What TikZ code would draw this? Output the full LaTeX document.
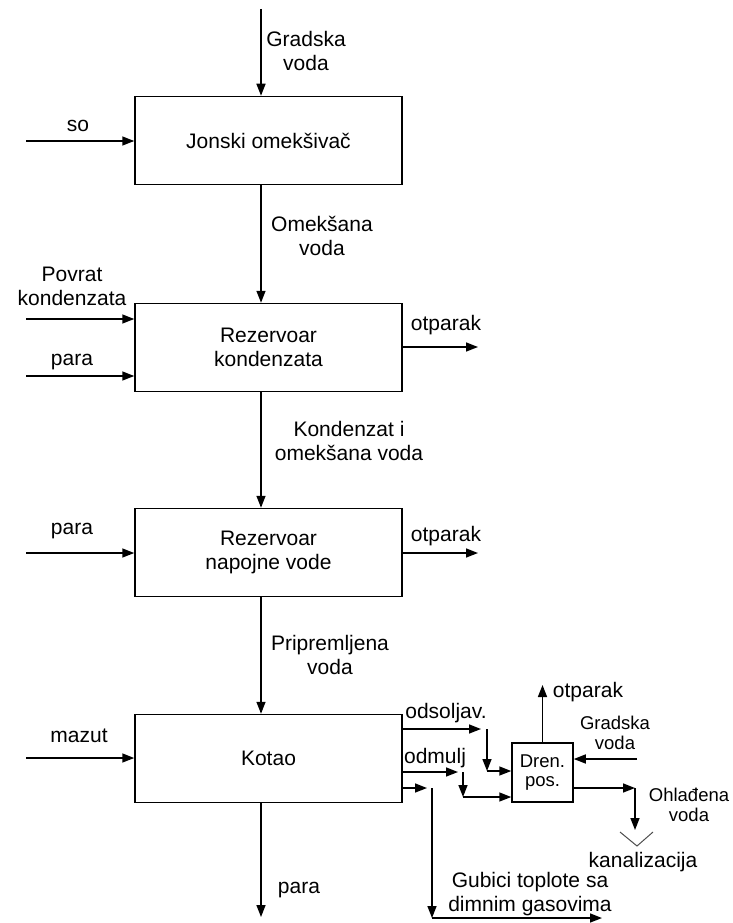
\documentclass[tikz,border=0pt]{standalone}
\usepackage{fontspec}
\setmainfont{Liberation Sans}
\usetikzlibrary{arrows.meta,calc}
\begin{document}
\begin{tikzpicture}[x=1pt,y=-1pt,
  box/.style={draw, line width=1.5pt, minimum width=267pt, minimum height=88pt, inner sep=0pt, align=center, font=\fontsize{21}{23.5}\selectfont},
  smallbox/.style={draw, line width=1.5pt, minimum width=61pt, minimum height=59pt, inner sep=0pt, align=center, font=\fontsize{18.5}{19}\selectfont},
  flow/.style={line width=1.5pt, -{Triangle[length=12pt,width=9pt]}},
  plain/.style={line width=1pt, black!70},
  lbl/.style={inner sep=0pt, align=center, font=\fontsize{21}{24}\selectfont},
  slbl/.style={inner sep=0pt, align=center, font=\fontsize{18.5}{20}\selectfont}]
\useasboundingbox (0,0) rectangle (733,923);

% main boxes
\node[box] (b1) at (268.5,140.5) {Jonski omekšivač};
\node[box] (b2) at (268.5,347.5) {Rezervoar\\kondenzata};
\node[box] (b3) at (268.5,552.5) {Rezervoar\\napojne vode};
\node[box] (b4) at (268.5,758.5) {Kotao};
\node[smallbox] (dr) at (542.5,772.5) {Dren.\\pos.};

% helper coordinates
\coordinate (ax) at (261,0);
\coordinate (gtop) at (261,9);
\coordinate (so) at (26,141);
\coordinate (pk) at (26,319);
\coordinate (p2) at (26,376);
\coordinate (p3) at (26,553);
\coordinate (mz) at (26,758);
\coordinate (o2) at (478,347);
\coordinate (o3) at (478,553);
\coordinate (po) at (261,917);
\coordinate (s1) at (487,729);
\coordinate (s2) at (487,771);
\coordinate (m1) at (463,772);
\coordinate (m2) at (463,797);
\coordinate (g1) at (432,788);
\coordinate (g2) at (432,918);
\coordinate (g3) at (602,918);
\coordinate (od) at (542.5,685);
\coordinate (gd) at (637,759);
\coordinate (h1) at (635,788);
\coordinate (h2) at (635,830);
\coordinate (k1) at (620,832);
\coordinate (k2) at (637,846);
\coordinate (k3) at (653,832);

% vertical main flow
\draw[flow] (gtop) -- (b1.north -| ax);
\draw[flow] (b1.south -| ax) -- (b2.north -| ax);
\draw[flow] (b2.south -| ax) -- (b3.north -| ax);
\draw[flow] (b3.south -| ax) -- (b4.north -| ax);
\draw[flow] (b4.south -| ax) -- (po);

% left inputs
\draw[flow] (so) -- (so -| b1.west);
\draw[flow] (pk) -- (pk -| b2.west);
\draw[flow] (p2) -- (p2 -| b2.west);
\draw[flow] (p3) -- (p3 -| b3.west);
\draw[flow] (mz) -- (mz -| b4.west);

% right outputs
\draw[flow] (o2 -| b2.east) -- (o2);
\draw[flow] (o3 -| b3.east) -- (o3);

% odsoljavanje
\draw[flow, shorten >=6pt] (s1 -| b4.east) -- (s1);
\draw[flow] (s1) -- (s2);
\draw[flow] (s2) -- (s2 -| dr.west);
% odmuljivanje
\draw[flow, shorten >=5pt] (m1 -| b4.east) -- (m1);
\draw[flow] (m1) -- (m2);
\draw[flow] (m2) -- (m2 -| dr.west);
% gubici
\draw[flow, shorten >=5pt] (g1 -| b4.east) -- (g1);
\draw[flow] (g1) -- (g2);
\draw[flow] (g2) -- (g3);

% drenazni posud
\draw[flow] (dr.north) -- (od);
\draw[flow] (gd) -- (gd -| dr.east);
\draw[flow] (h1 -| dr.east) -- (h1);
\draw[flow] (h1) -- (h2);
\draw[plain] (k1) -- (k2) -- (k3);

% labels
\node[lbl] (lgv) at (306,51) {Gradska\\voda};
\node[lbl] (lso) at (78,126) {so};
\node[lbl] (lom) at (322,235.5) {Omekšana\\voda};
\node[lbl] (lpk) at (72,286.5) {Povrat\\kondenzata};
\node[lbl] (lp2) at (72,362) {para};
\node[lbl] (lo2) at (446,325) {otparak};
\node[lbl] (lki) at (349,441) {Kondenzat i\\omekšana voda};
\node[lbl] (lp3) at (72,531) {para};
\node[lbl] (lo3) at (446,536) {otparak};
\node[lbl] (lpv) at (330,654.5) {Pripremljena\\voda};
\node[lbl] (lmz) at (79,736) {mazut};
\node[lbl] (lp4) at (299,890) {para};
\node[lbl] (lods) at (446,713) {odsoljav.};
\node[lbl] (lodm) at (435,758) {odmulj};
\node[lbl] (lod) at (588,692) {otparak};
\node[slbl] (lgd) at (615,733) {Gradska\\voda};
\node[slbl] (loh) at (689,805) {Ohlađena\\voda};
\node[lbl] (lkan) at (643,862) {kanalizacija};
\node[lbl] (lgub) at (530,894) {Gubici toplote sa\\dimnim gasovima};
\end{tikzpicture}
\end{document}
